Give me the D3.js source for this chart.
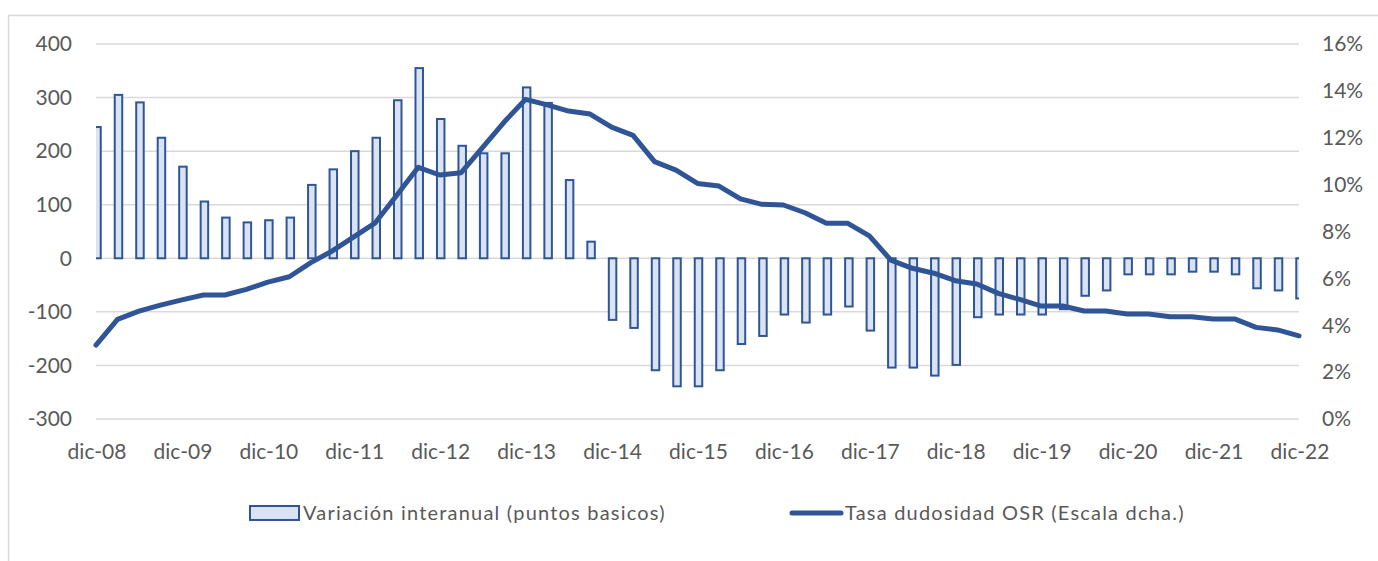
<!DOCTYPE html>
<html>
<head>
<meta charset="utf-8">
<script src="https://cdn.jsdelivr.net/npm/d3@7"></script>
<style>
  body { margin: 0; background: #fff; }
  svg { display: block; font-family: Lato, "Open Sans", sans-serif; }
</style>
</head>
<body>
<svg id="chart" width="1378" height="561"></svg>
<script>
// quarterly, dic-08 .. dic-22
const quarters = ["dic", "mar", "jun", "sep"];

// variacion interanual (puntos basicos)
const variacion = [
  245, 305, 291, 225, 171, 106, 76, 67, 71, 76, 137, 166, 200, 225, 295, 355,
  260, 210, 196, 196, 319, 290, 146, 31, -115, -130, -209, -239, -239, -209,
  -160, -145, -105, -120, -105, -90, -135, -204, -204, -219, -199, -110, -105,
  -105, -105, -95, -70, -60, -30, -30, -30, -25, -25, -30, -56, -60, -75
];

// tasa dudosidad OSR (%)
const tasa = [
  3.15, 4.25, 4.6, 4.86, 5.08, 5.29, 5.29, 5.53, 5.84, 6.07, 6.67, 7.17, 7.77,
  8.37, 9.55, 10.74, 10.41, 10.51, 11.59, 12.67, 13.64, 13.4, 13.14, 13.01,
  12.45, 12.1, 10.98, 10.62, 10.05, 9.94, 9.39, 9.16, 9.13, 8.8, 8.35, 8.35,
  7.81, 6.78, 6.43, 6.22, 5.9, 5.76, 5.36, 5.1, 4.82, 4.82, 4.61, 4.61, 4.48,
  4.48, 4.36, 4.36, 4.27, 4.27, 3.91, 3.8, 3.55
];

const leftTicks = [-300, -200, -100, 0, 100, 200, 300, 400];
const rightTicks = [0, 2, 4, 6, 8, 10, 12, 14, 16];

const legendNames = ["Variación interanual (puntos basicos)", "Tasa dudosidad OSR (Escala dcha.)"];

// category labels: dic-08, mar-09, jun-09, sep-09, dic-09 ...
const labels = variacion.map((d, i) => {
  let q = i % 4;
  let yr = 8 + Math.ceil(i / 4);
  return quarters[q] + "-" + String(yr).padStart(2, "0");
});

const blue = "#2f5597";
const fillBlue = "#dae3f3";
const grid = "#d9d9d9";
const textCol = "#595959";

let svg = d3.select("#chart");

// outer chart border
svg.append("rect")
  .attr("x", 8.5).attr("y", 15.5)
  .attr("width", 1400).attr("height", 600)
  .attr("fill", "none").attr("stroke", grid).attr("stroke-width", 1.5);

let x = d3.scalePoint().domain(labels).range([96, 1299]);
let yL = d3.scaleLinear().domain([-300, 400]).range([419, 44]);
let yR = d3.scaleLinear().domain([0, 16]).range([419, 44]);

svg.append("defs").append("clipPath").attr("id", "plot")
  .append("rect").attr("x", 96).attr("y", 30).attr("width", 1203).attr("height", 400);

// gridlines
svg.append("g").selectAll("line")
  .data(leftTicks)
  .join("line")
  .attr("x1", 96).attr("x2", 1299)
  .attr("y1", d => yL(d)).attr("y2", d => yL(d))
  .attr("stroke", grid).attr("stroke-width", 1.5);

// left axis labels
svg.append("g").selectAll("text")
  .data(leftTicks)
  .join("text")
  .attr("x", 72).attr("y", d => yL(d))
  .attr("dy", "0.35em")
  .attr("text-anchor", "end")
  .attr("font-size", 21).attr("fill", textCol)
  .text(d => d);

// right axis labels
svg.append("g").selectAll("text")
  .data(rightTicks)
  .join("text")
  .attr("x", 1322).attr("y", d => yR(d))
  .attr("dy", "0.35em")
  .attr("font-size", 21).attr("fill", textCol)
  .text(d => d + "%");

// x labels, only december
svg.append("g").selectAll("text")
  .data(labels.filter(l => l.startsWith("dic")))
  .join("text")
  .attr("x", d => x(d) + 1).attr("y", 452)
  .attr("dy", "0.35em")
  .attr("text-anchor", "middle")
  .attr("font-size", 21).attr("fill", textCol)
  .text(d => d);

// bars
let bw = 7.5;
svg.append("g").attr("clip-path", "url(#plot)")
  .selectAll("rect")
  .data(variacion)
  .join("rect")
  .attr("x", (d, i) => x(labels[i]) + 1 - bw / 2)
  .attr("y", d => Math.min(yL(d), yL(0)))
  .attr("width", bw)
  .attr("height", d => Math.abs(yL(d) - yL(0)))
  .attr("fill", fillBlue)
  .attr("stroke", blue).attr("stroke-width", 2);

// line
let line = d3.line()
  .x((d, i) => x(labels[i]))
  .y(d => yR(d));

svg.append("path")
  .datum(tasa)
  .attr("d", line)
  .attr("fill", "none")
  .attr("stroke", blue)
  .attr("stroke-width", 5)
  .attr("stroke-linejoin", "round")
  .attr("stroke-linecap", "round");

// legend
let leg = svg.append("g").attr("font-size", 20).attr("fill", textCol)
  .attr("letter-spacing", 1.2);
leg.append("rect")
  .attr("x", 250).attr("y", 506).attr("width", 49).attr("height", 14)
  .attr("fill", fillBlue).attr("stroke", blue).attr("stroke-width", 2);
leg.append("text")
  .attr("x", 303).attr("y", 513).attr("dy", "0.35em")
  .text(legendNames[0]);
leg.append("line")
  .attr("x1", 792).attr("x2", 841).attr("y1", 513).attr("y2", 513)
  .attr("stroke", blue).attr("stroke-width", 5).attr("stroke-linecap", "round");
leg.append("text")
  .attr("x", 845).attr("y", 513).attr("dy", "0.35em")
  .text(legendNames[1]);
</script>
</body>
</html>
